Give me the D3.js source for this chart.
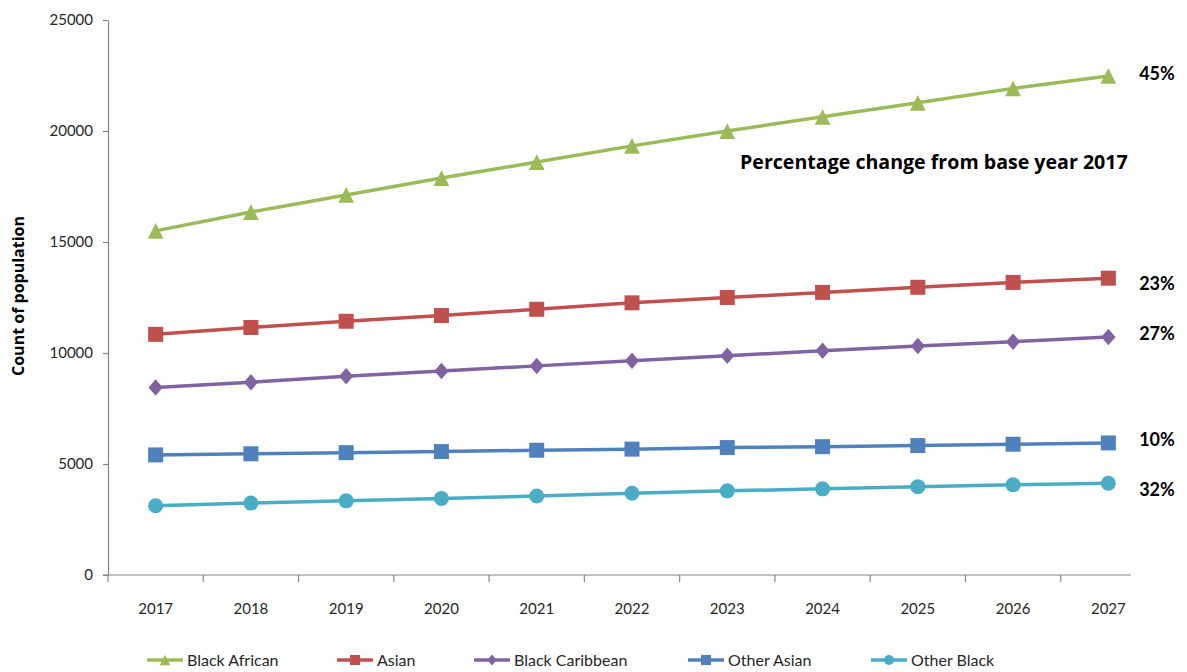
<!DOCTYPE html>
<html>
<head>
<meta charset="utf-8">
<script src="https://cdn.jsdelivr.net/npm/d3@7"></script>
<style>
  html, body { margin: 0; padding: 0; background: #fff; }
  svg { display: block; font-family: Lato, "Open Sans", sans-serif; }
</style>
</head>
<body>
<svg id="chart" width="1187" height="672"></svg>
<script>
// Projected population counts by ethnic group, 2017-2027
const years = [2017, 2018, 2019, 2020, 2021, 2022, 2023, 2024, 2025, 2026, 2027];
const blackAfrican   = [15500, 16350, 17120, 17880, 18600, 19330, 20000, 20640, 21270, 21920, 22480];
const asian          = [10840, 11150, 11430, 11690, 11970, 12260, 12500, 12730, 12960, 13180, 13370];
const blackCaribbean = [8450, 8680, 8950, 9190, 9420, 9650, 9880, 10100, 10310, 10510, 10720];
const otherAsian     = [5410, 5460, 5510, 5560, 5620, 5670, 5740, 5780, 5830, 5890, 5950];
const otherBlack     = [3120, 3240, 3340, 3450, 3560, 3680, 3790, 3880, 3980, 4060, 4130];
const seriesNames    = ["Black African", "Asian", "Black Caribbean", "Other Asian", "Other Black"];
const yTicks         = [0, 5000, 10000, 15000, 20000, 25000];

const seriesValues = [blackAfrican, asian, blackCaribbean, otherAsian, otherBlack];
const colors  = ["#9BBB59", "#C0504D", "#8064A2", "#4F81BD", "#4BACC6"];
const shapes  = ["triangle", "square", "diamond", "square", "circle"];

const svg = d3.select("#chart");

// plot frame
const plotLeft = 108, plotRight = 1156, plotTop = 20, plotBottom = 575, axisEnd = 1131;

const x = d3.scaleBand().domain(years).range([plotLeft, plotRight]);
const y = d3.scaleLinear().domain([0, 25000]).range([plotBottom, plotTop]);
const cx = yr => x(yr) + x.bandwidth() / 2;

const axisColor = "#868686";
const textColor = "#262626";

// y axis
const yAxis = svg.append("g")
  .attr("transform", `translate(${plotLeft},0)`)
  .call(d3.axisLeft(y).tickValues(yTicks).tickSize(5).tickSizeOuter(0).tickPadding(10).tickFormat(d3.format("d")));
yAxis.select(".domain").attr("stroke", axisColor).attr("stroke-width", 1.2);
yAxis.selectAll(".tick line").attr("stroke", axisColor).attr("stroke-width", 1.2);
yAxis.selectAll(".tick text").attr("fill", textColor).style("font-size", "15px").style("font-family", "Lato, sans-serif");

// x axis: labels centred in each category, ticks on the category edges
const xAxis = svg.append("g")
  .attr("transform", `translate(0,${plotBottom})`)
  .call(d3.axisBottom(x).tickSize(0).tickPadding(28));
xAxis.select(".domain").remove();
xAxis.selectAll(".tick text").attr("fill", textColor).style("font-size", "15px").style("font-family", "Lato, sans-serif");

svg.append("line")
  .attr("x1", plotLeft - 5).attr("x2", axisEnd)
  .attr("y1", plotBottom).attr("y2", plotBottom)
  .attr("stroke", axisColor).attr("stroke-width", 1.2);
svg.append("g").selectAll("line")
  .data(years)
  .join("line")
  .attr("x1", d => x(d)).attr("x2", d => x(d))
  .attr("y1", plotBottom).attr("y2", plotBottom + 7)
  .attr("stroke", axisColor).attr("stroke-width", 1.2);

// y axis title
svg.append("text")
  .attr("transform", "translate(24,296) rotate(-90)")
  .attr("text-anchor", "middle")
  .style("font-family", "'Open Sans', sans-serif")
  .style("font-size", "16px").style("font-weight", "bold")
  .attr("fill", "#000")
  .text("Count of population");

// marker path generator
function markerPath(shape, s) {
  switch (shape) {
    case "triangle": {
      const h = s * 1.05, w = s * 1.05;
      return `M0,${-h / 2}L${w / 2},${h / 2}L${-w / 2},${h / 2}Z`;
    }
    case "square":
      return `M${-s / 2},${-s / 2}h${s}v${s}h${-s}Z`;
    case "diamond": {
      const w = s * 0.95, h = s * 1.1;
      return `M0,${-h / 2}L${w / 2},0L0,${h / 2}L${-w / 2},0Z`;
    }
    default:
      return d3.symbol(d3.symbolCircle, Math.PI * (s / 2) * (s / 2))();
  }
}

// series lines and markers
const line = d3.line().x((d, i) => cx(years[i])).y(d => y(d));
seriesValues.forEach((vals, k) => {
  const g = svg.append("g");
  g.append("path")
    .datum(vals)
    .attr("d", line)
    .attr("fill", "none")
    .attr("stroke", colors[k])
    .attr("stroke-width", 3.5)
    .attr("stroke-linejoin", "round");
  g.selectAll("path.m")
    .data(vals)
    .join("path")
    .attr("class", "m")
    .attr("transform", (d, i) => `translate(${cx(years[i])},${y(d)})`)
    .attr("d", markerPath(shapes[k], 15))
    .attr("fill", colors[k]);
});

// percentage change labels at the right end
const labelNudge = [-2, 6, -3, -3, 6];
svg.append("g").selectAll("text")
  .data(seriesValues)
  .join("text")
  .attr("x", 1157)
  .attr("y", (d, k) => y(d[d.length - 1]) + labelNudge[k])
  .attr("text-anchor", "middle")
  .attr("dy", "0.35em")
  .style("font-size", "18px").style("font-weight", "bold")
  .attr("fill", "#000")
  .text(d => Math.round((d[d.length - 1] / d[0] - 1) * 100) + "%");

svg.append("text")
  .attr("x", 740).attr("y", 162)
  .attr("dy", "0.35em")
  .style("font-family", "'Open Sans', sans-serif")
  .style("font-size", "19.6px").style("font-weight", "bold")
  .attr("fill", "#000")
  .text("Percentage change from base year " + years[0]);

// legend
const legendX = [147, 337, 474, 688, 871];
const legendY = 660;
const lg = svg.append("g").selectAll("g")
  .data(seriesNames)
  .join("g")
  .attr("transform", (d, k) => `translate(${legendX[k]},${legendY})`);
lg.append("line")
  .attr("x1", 0).attr("x2", 36)
  .attr("stroke", (d, k) => colors[k]).attr("stroke-width", 3.5);
lg.append("path")
  .attr("transform", "translate(18,0)")
  .attr("d", (d, k) => markerPath(shapes[k], 10))
  .attr("fill", (d, k) => colors[k]);
lg.append("text")
  .attr("x", 40)
  .attr("dy", "0.35em")
  .style("font-size", "16px")
  .attr("fill", textColor)
  .text(d => d);
</script>
</body>
</html>
